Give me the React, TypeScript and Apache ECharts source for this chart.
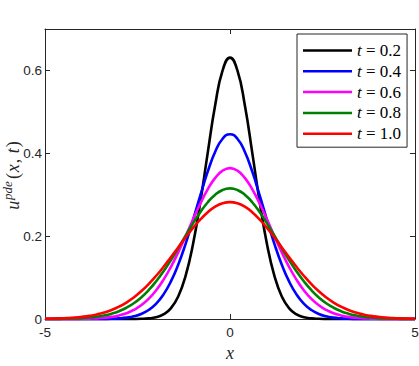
import React, { useEffect, useRef } from "react";
import * as echarts from "echarts";

const xs = [
  -5, -4.8, -4.6, -4.4, -4.2, -4, -3.8, -3.6, -3.4, -3.2, -3, -2.8, -2.6, -2.4, -2.2, -2, -1.8, -1.6, -1.4, -1.2, -1,
  -0.8, -0.6, -0.4, -0.2, 0, 0.2, 0.4, 0.6, 0.8, 1, 1.2, 1.4, 1.6, 1.8, 2, 2.2, 2.4, 2.6, 2.8, 3, 3.2, 3.4, 3.6, 3.8,
  4, 4.2, 4.4, 4.6, 4.8, 5,
];

const times = ["0.2", "0.4", "0.6", "0.8", "1.0"];

const u02 = [
  0, 0, 0, 0, 0, 0, 0, 0, 0, 0, 0.00001, 0.00004, 0.00013, 0.00047, 0.00149, 0.00425, 0.01099, 0.02571, 0.05443,
  0.1043, 0.1807, 0.2834, 0.4022, 0.5165, 0.6, 0.6308, 0.6, 0.5165, 0.4022, 0.2834, 0.1807, 0.1043, 0.05443, 0.02571,
  0.01099, 0.00425, 0.00149, 0.00047, 0.00013, 0.00004, 0.00001, 0, 0, 0, 0, 0, 0, 0, 0, 0, 0,
];
const u04 = [
  0, 0, 0, 0, 0, 0, 0.0001, 0.0001, 0.0003, 0.0007, 0.0016, 0.0033, 0.0065, 0.0122, 0.0217, 0.0366, 0.0589, 0.0901,
  0.1311, 0.1814, 0.2388, 0.299, 0.3562, 0.4036, 0.4351, 0.4461, 0.4351, 0.4036, 0.3562, 0.299, 0.2388, 0.1814, 0.1311,
  0.0901, 0.0589, 0.0366, 0.0217, 0.0122, 0.0065, 0.0033, 0.0016, 0.0007, 0.0003, 0.0001, 0.0001, 0, 0, 0, 0, 0, 0,
];
const u06 = [
  0, 0, 0.0001, 0.0001, 0.0002, 0.0005, 0.0009, 0.0016, 0.0029, 0.0051, 0.0086, 0.0139, 0.0218, 0.033, 0.0485, 0.0688,
  0.0944, 0.1254, 0.1609, 0.1999, 0.2401, 0.2789, 0.3135, 0.3407, 0.3582, 0.3642, 0.3582, 0.3407, 0.3135, 0.2789,
  0.2401, 0.1999, 0.1609, 0.1254, 0.0944, 0.0688, 0.0485, 0.033, 0.0218, 0.0139, 0.0086, 0.0051, 0.0029, 0.0016,
  0.0009, 0.0005, 0.0002, 0.0001, 0.0001, 0, 0,
];
const u08 = [
  0.0001, 0.0002, 0.0004, 0.0007, 0.0013, 0.0021, 0.0035, 0.0055, 0.0085, 0.0129, 0.0189, 0.0272, 0.0381, 0.0521,
  0.0695, 0.0904, 0.1146, 0.1417, 0.1709, 0.2011, 0.2307, 0.2582, 0.2818, 0.3, 0.3115, 0.3154, 0.3115, 0.3, 0.2818,
  0.2582, 0.2307, 0.2011, 0.1709, 0.1417, 0.1146, 0.0904, 0.0695, 0.0521, 0.0381, 0.0272, 0.0189, 0.0129, 0.0085,
  0.0055, 0.0035, 0.0021, 0.0013, 0.0007, 0.0004, 0.0002, 0.0001,
];
const u10 = [
  0.0005, 0.0009, 0.0014, 0.0022, 0.0034, 0.0052, 0.0076, 0.011, 0.0157, 0.0218, 0.0297, 0.0397, 0.0521, 0.0668,
  0.0841, 0.1038, 0.1255, 0.1488, 0.1728, 0.1968, 0.2197, 0.2404, 0.2578, 0.271, 0.2793, 0.2821, 0.2793, 0.271,
  0.2578, 0.2404, 0.2197, 0.1968, 0.1728, 0.1488, 0.1255, 0.1038, 0.0841, 0.0668, 0.0521, 0.0397, 0.0297, 0.0218,
  0.0157, 0.011, 0.0076, 0.0052, 0.0034, 0.0022, 0.0014, 0.0009, 0.0005,
];

const seriesValues = [u02, u04, u06, u08, u10];
const colors = ["#000000", "#0000ff", "#ff00ff", "#008000", "#ff0000"];

const xTicks = { min: -5, max: 5, interval: 5 };
const yTicks = { min: 0, max: 0.7, interval: 0.2 };

const AXIS_COLOR = "#262626";
const MATH_FONT = "'Liberation Serif', 'DejaVu Serif', serif";
const SANS = "'Liberation Sans', Arial, sans-serif";

export default function App() {
  const ref = useRef<HTMLDivElement>(null);

  useEffect(() => {
    if (!ref.current) return;
    const chart = echarts.init(ref.current, null, { renderer: "svg" });

    const axisCommon = {
      axisLine: { show: true, onZero: false, lineStyle: { color: AXIS_COLOR, width: 1 } },
      axisTick: { show: true, inside: true, length: 5, lineStyle: { color: AXIS_COLOR, width: 1 } },
      splitLine: { show: false },
    };

    const series = seriesValues.map((vals, i) => ({
      name: `t = ${times[i]}`,
      type: "line",
      xAxisIndex: 0,
      yAxisIndex: 0,
      data: xs.map((x, j) => [x, vals[j]]),
      symbol: "none",
      showSymbol: false,
      smooth: true,
      clip: false,
      lineStyle: { color: colors[i], width: 2.6 },
      itemStyle: { color: colors[i] },
    }));

    chart.setOption({
      animation: false,
      backgroundColor: "#ffffff",
      grid: { left: 45, top: 29, right: 4, bottom: 47, containLabel: false, outerBoundsMode: "none" },
      xAxis: [
        {
          type: "value",
          position: "bottom",
          ...xTicks,
          ...axisCommon,
          axisLabel: { show: true, color: AXIS_COLOR, fontSize: 13.5, fontFamily: SANS, margin: 6 },
          name: "x",
          nameLocation: "middle",
          nameGap: 25,
          nameTextStyle: { fontFamily: MATH_FONT, fontStyle: "italic", fontSize: 18, color: AXIS_COLOR },
        },
        {
          type: "value",
          position: "top",
          ...xTicks,
          ...axisCommon,
          axisLabel: { show: false },
        },
      ],
      yAxis: [
        {
          type: "value",
          position: "left",
          ...yTicks,
          ...axisCommon,
          axisLabel: {
            show: true,
            color: AXIS_COLOR,
            fontSize: 13.5,
            fontFamily: SANS,
            margin: 3,
            showMaxLabel: false,
            formatter: (v: number) => (Math.abs(v - 0.7) < 1e-9 ? "" : String(Math.round(v * 10) / 10)),
          },
        },
        {
          type: "value",
          position: "right",
          ...yTicks,
          ...axisCommon,
          axisLabel: { show: false },
        },
      ],
      graphic: [
        {
          type: "text",
          x: 13,
          y: 175,
          rotation: Math.PI / 2,
          style: {
            text: "{i|u}{s|pde}{r|(}{i|x}{r|, }{i|t}{r|)}",
            align: "center",
            verticalAlign: "middle",
            rich: {
              i: { fontFamily: MATH_FONT, fontStyle: "italic", fontSize: 18, fill: AXIS_COLOR, lineHeight: 24 },
              r: { fontFamily: MATH_FONT, fontSize: 18, fill: AXIS_COLOR, lineHeight: 24, padding: [0, 1, 0, 1] },
              s: {
                fontFamily: MATH_FONT,
                fontStyle: "italic",
                fontSize: 13,
                fill: AXIS_COLOR,
                verticalAlign: "top",
                lineHeight: 10,
                padding: [0, 1, 0, 1],
              },
            },
          },
        },
      ],
      legend: {
        show: true,
        orient: "vertical",
        left: 297,
        top: 34,
        padding: [8, 6, 5, 6],
        itemGap: 3.8,
        itemWidth: 49,
        itemHeight: 2.5,
        icon: "rect",
        backgroundColor: "#ffffff",
        borderColor: AXIS_COLOR,
        borderWidth: 1,
        borderRadius: 0,
        data: series.map((s) => s.name),
        formatter: (name: string) => `{i|t}{r| = ${name.slice(4)}}`,
        textStyle: {
          color: "#000000",
          rich: {
            i: { fontFamily: MATH_FONT, fontStyle: "italic", fontSize: 17, color: "#000000", lineHeight: 16 },
            r: { fontFamily: MATH_FONT, fontSize: 17, color: "#000000", lineHeight: 16 },
          },
        },
      },
      series,
    });

    return () => chart.dispose();
  }, []);

  return <div ref={ref} style={{ position: "fixed", left: 0, top: 0, width: 419, height: 366 }} />;
}
